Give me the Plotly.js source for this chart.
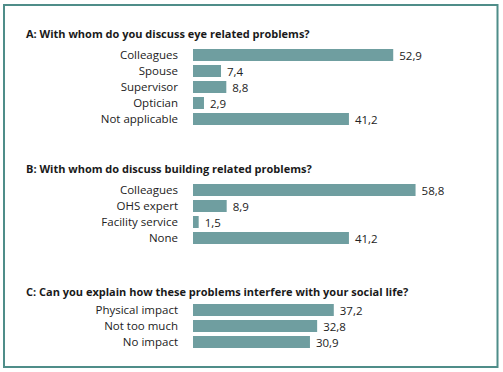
<!DOCTYPE html>
<html>
<head>
<meta charset="utf-8">
<script src="https://cdn.plot.ly/plotly-3.0.1.min.js"></script>
<style>html,body{margin:0;padding:0;background:#fff;}#chart{width:503px;height:372px;}</style>
</head>
<body>
<div id="chart"></div>
<script>
const titleA = "A: With whom do you discuss eye related problems?";
const titleB = "B: With whom do discuss building related problems?";
const titleC = "C: Can you explain how these problems interfere with your social life?";

const catsA = ["Colleagues", "Spouse", "Supervisor", "Optician", "Not applicable"];
const valsA = [52.9, 7.4, 8.8, 2.9, 41.2];

const catsB = ["Colleagues", "OHS expert", "Facility service", "None"];
const valsB = [58.8, 8.9, 1.5, 41.2];

const catsC = ["Physical impact", "Not too much", "No impact"];
const valsC = [37.2, 32.8, 30.9];

const barColor = "#6f9ea0";
const fontFam = "'Open Sans', sans-serif";
const fmt = v => ' ' + v.toFixed(1).replace('.', ',');

function trace(cats, vals, xa, ya) {
  return {
    type: 'bar', orientation: 'h',
    x: vals, y: cats,
    xaxis: xa, yaxis: ya,
    marker: {color: barColor},
    text: vals.map(fmt),
    textposition: 'outside',
    constraintext: 'none',
    cliponaxis: false,
    textfont: {family: fontFam, size: 11.5, color: '#222'},
    hoverinfo: 'none'
  };
}

const H = 372, W = 503;
const py = p => 1 - p / H;
const xDom = [193 / W, 193 / W + 80 * 3.785 / W];

function xax(anchor) {
  return {domain: xDom, range: [0, 80], visible: false, anchor: anchor, fixedrange: true};
}
function yax(top, bottom, anchor) {
  return {
    domain: [py(bottom), py(top)], anchor: anchor,
    autorange: 'reversed', type: 'category',
    showgrid: false, zeroline: false, showline: false,
    ticks: '', ticklabelstandoff: 14,
    tickfont: {family: fontFam, size: 11.5, color: '#222'}
  };
}

const data = [
  trace(catsA, valsA, 'x', 'y'),
  trace(catsB, valsB, 'x2', 'y2'),
  trace(catsC, valsC, 'x3', 'y3')
];

function title(text, ypix) {
  return {
    text: '<b>' + text + '</b>', xref: 'paper', yref: 'paper',
    x: 24 / W, y: py(ypix), xanchor: 'left', yanchor: 'middle',
    showarrow: false, font: {family: fontFam, size: 11, color: '#1a1a1a'}
  };
}

const layout = {
  width: W, height: H,
  margin: {l: 0, r: 0, t: 0, b: 0},
  paper_bgcolor: '#fff', plot_bgcolor: 'rgba(0,0,0,0)',
  showlegend: false,
  bargap: 0.26,
  xaxis: xax('y'), yaxis: yax(47, 127, 'x'),
  xaxis2: xax('y2'), yaxis2: yax(182, 246, 'x2'),
  xaxis3: xax('y3'), yaxis3: yax(302, 350, 'x3'),
  annotations: [title(titleA, 33), title(titleB, 168), title(titleC, 291)],
  shapes: [{
    type: 'rect', xref: 'paper', yref: 'paper',
    x0: 4 / W, x1: 497.5 / W, y0: py(367), y1: py(5),
    line: {color: '#4f8d89', width: 2}, fillcolor: 'rgba(0,0,0,0)'
  }]
};

Plotly.newPlot('chart', data, layout, {staticPlot: true, displayModeBar: false});
</script>
</body>
</html>
